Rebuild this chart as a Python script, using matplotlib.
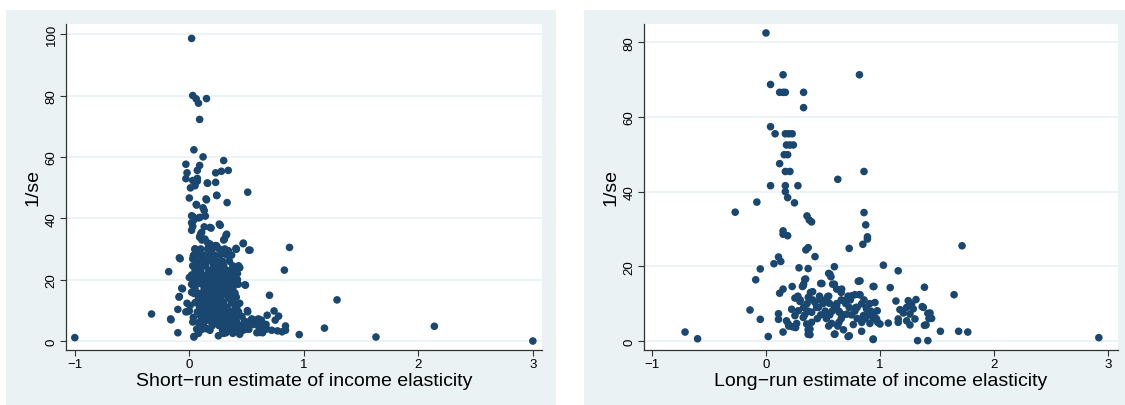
import numpy as np
import matplotlib
matplotlib.use("Agg")
import matplotlib.pyplot as plt
from matplotlib.patches import Rectangle

plt.rcParams['font.family'] = ['Liberation Sans', 'DejaVu Sans']

navy = '#1a476f'
panel_bg = '#eaf2f3'

# ---- short-run panel: scattered points (x = elasticity, y = 1/se)
sr_x = [-1.0, 0.02, 0.03, 0.06, 0.08, 0.15, 0.09, 0.04, 0.12, 0.30, -0.03, 0.09, 0.07, 0.28, 0.34,
        0.23, -0.02, -0.03, 0.03, 0.07, 0.07, 0.16, 0.23, 0.01, 0.51, 0.24, 0.0, 0.15, 0.06, 0.33,
        0.12, 0.13, 0.03, 0.14, 0.08, 0.02, 0.03, 0.13, 0.19, 0.27, 0.02, 0.10, 0.32, 0.09, 0.30,
        0.11, 0.47, 0.23, 0.16, 0.875, 0.53, 0.41, 0.05, 0.34, 0.31, 0.03, -0.08, 0.83, -0.18, 0.49,
        -0.06, 0.70, -0.09, 1.29, -0.33, -0.10, -0.16, -0.10, 0.04, 0.96, 1.18, 1.63, 2.14, 3.0, 0.74,
        0.78, 0.68, 0.75, 0.84, 0.84, 0.81, 0.51, 0.44, 0.41, 0.44, 0.42, -0.02, -0.03, 0.0, 0.03,
        0.08, 0.08, 0.11, 0.15, 0.32, 0.44]
sr_y = [1.1, 98.6, 80.0, 78.9, 77.5, 79.0, 72.2, 62.3, 60.0, 58.8, 57.6, 57.2, 55.6, 55.3, 55.6,
        54.8, 54.8, 52.9, 52.3, 52.1, 53.0, 51.4, 51.7, 49.9, 48.5, 47.4, 46.6, 46.0, 44.5, 45.1,
        43.4, 42.5, 40.6, 40.7, 40.1, 38.5, 37.4, 37.2, 36.8, 37.7, 36.1, 35.0, 34.4, 33.8, 32.9,
        32.9, 31.7, 31.1, 32.0, 30.5, 29.6, 29.9, 29.8, 29.3, 28.5, 26.8, 26.8, 23.1, 22.6, 18.2,
        17.0, 14.9, 14.3, 13.4, 8.8, 10.3, 6.9, 2.7, 1.3, 2.1, 4.2, 1.3, 4.8, 0.0, 9.8,
        8.1, 8.4, 6.8, 4.9, 3.5, 3.0, 9.5, 12.3, 14.3, 23.9, 22.0, 12.3, 9.5, 9.8, 6.2,
        6.0, 2.5, 3.8, 4.0, 2.7, 2.2]

# tail of the short-run cloud, right of 0.4
sr_tail_x = [0.53, 0.58, 0.63, 0.56, 0.61, 0.66, 0.72, 0.77, 0.52, 0.59, 0.64, 0.50, 0.67, 0.62,
             0.472, 0.408, 0.52, 0.341, 0.437, 0.486, 0.507, 0.545, 0.603, 0.574, 0.632, 0.617,
             0.676, 0.501, 0.443, 0.399, 0.428, 0.37, 0.414, 0.385, 0.341, 0.399, 0.355, 0.428,
             0.37, 0.399]
sr_tail_y = [6.5, 6.8, 6.8, 5.4, 4.3, 3.8, 3.5, 3.3, 3.8, 2.7, 2.7, 5.4, 5.4, 5.4,
             31.9, 30.0, 29.6, 29.4, 23.9, 18.3, 9.9, 7.2, 7.2, 5.6, 5.0, 2.8,
             3.9, 3.9, 5.0, 6.1, 8.2, 9.3, 10.9, 12.6, 14.2, 15.6, 17.4, 18.5,
             20.7, 22.4]

# left edge and upper part of the short-run cloud
sr_edge_x = [-0.163, -0.087, -0.066, 0.0, 0.02, 0.006, -0.014, 0.035, 0.041, 0.064, 0.108, 0.137,
             0.093, 0.152, 0.181, 0.035, 0.064, 0.05, 0.195, 0.239, 0.224, 0.312, 0.254, 0.326,
             0.282, 0.157, 0.05, 0.239, 0.146, 0.064, 0.02, 0.035, 0.093, 0.262, 0.181, 0.108,
             0.093, 0.137, 0.326, 0.306, 0.239, 0.181, 0.408, 0.05, 0.035, -0.087]
sr_edge_y = [7.2, 14.5, 17.2, 20.7, 15.9, 11.5, 9.6, 7.7, 1.5, 3.9, 7.7, 4.4,
             10.4, 11.5, 14.8, 18.0, 22.4, 24.5, 18.0, 9.3, 6.1, 2.8, 1.7, 21.8,
             14.8, 51.5, 50.6, 47.5, 46.3, 44.3, 40.8, 39.2, 40.3, 38.1, 37.0, 35.4,
             34.2, 33.2, 34.8, 33.2, 31.0, 31.6, 30.2, 30.0, 27.8, 27.1]

# dense core of the short-run cloud, row by row
sr_core_y = [30, 28, 26, 24.5, 23, 21.5, 20, 18.5, 17, 15.5, 14, 12.5, 11, 9.5, 8, 6.5, 5, 3.5, 2.5]
sr_core_x = [
    [0.05, 0.10, 0.16, 0.20, 0.26, 0.31],
    [0.04, 0.09, 0.13, 0.18, 0.22, 0.27, 0.33, 0.37],
    [0.06, 0.11, 0.15, 0.19, 0.24, 0.29, 0.35],
    [0.03, 0.08, 0.14, 0.21, 0.25, 0.30, 0.38, 0.43],
    [0.05, 0.10, 0.17, 0.22, 0.27, 0.33, 0.36, 0.40],
    [0.02, 0.07, 0.12, 0.16, 0.20, 0.24, 0.29, 0.34, 0.39],
    [0.04, 0.09, 0.14, 0.18, 0.23, 0.27, 0.32, 0.37, 0.42],
    [0.02, 0.06, 0.11, 0.16, 0.21, 0.26, 0.30, 0.35, 0.40],
    [0.05, 0.13, 0.19, 0.23, 0.28, 0.33, 0.38],
    [0.04, 0.09, 0.15, 0.20, 0.25, 0.31, 0.36],
    [0.08, 0.12, 0.18, 0.22, 0.27, 0.34, 0.39],
    [0.05, 0.10, 0.16, 0.21, 0.26, 0.30, 0.37],
    [0.09, 0.14, 0.19, 0.24, 0.29, 0.33, 0.40],
    [0.07, 0.12, 0.17, 0.22, 0.27, 0.31, 0.36, 0.43],
    [0.10, 0.15, 0.21, 0.25, 0.30, 0.35, 0.39, 0.46],
    [0.13, 0.18, 0.27, 0.32, 0.37, 0.41, 0.48],
    [0.12, 0.20, 0.26, 0.30, 0.34, 0.39, 0.45],
    [0.09, 0.18, 0.29, 0.36, 0.42, 0.47],
    [0.30, 0.38],
]

# ---- long-run panel
lr_x = [-0.0, 0.15, 0.82, 0.04, 0.12, 0.15, 0.17, 0.33, 0.33, 0.04, 0.08, 0.17, 0.20, 0.23, 0.18,
        0.21, 0.24, 0.16, 0.19, 0.12, 0.17, 0.21, 0.86, 0.63, 0.04, 0.17, 0.28, 0.17, 0.19, 0.25,
        -0.08, -0.27, 0.86, 0.36, 0.38, 0.40, 0.875, 0.15, 0.15, 0.19, 0.89, 0.89, 0.85, 1.72, 0.73,
        0.37, 0.35, 0.43, 0.11, 0.13, 0.07, -0.05, 0.29, 0.37, 0.60, 1.03, 1.16, 0.55, 0.57, -0.09,
        0.81, 0.34, 0.33, 0.32, 0.48, 0.60, 0.94, 1.09, 1.39, 0.23, 0.15, 0.12, 0.39, 0.62, 0.66,
        1.65, 0.78, 0.82, 1.14, -0.14, -0.05, -0.71, -0.60, 0.02, 0.15, 0.37, 0.60, 0.72, 0.94, 1.33,
        1.42, 1.53, 1.69, 1.77, 2.92, 1.39, 1.43, 1.42, 1.37, 0.11, 0.11, 0.18, 0.20, 0.26]
lr_y = [82.5, 71.3, 71.3, 68.7, 66.6, 66.6, 66.6, 66.6, 62.5, 57.4, 55.5, 55.5, 55.5, 55.5, 52.5,
        52.5, 52.5, 49.9, 49.9, 47.5, 45.4, 45.4, 45.4, 43.3, 41.6, 41.6, 41.6, 40.0, 38.4, 37.0,
        37.2, 34.5, 34.4, 33.5, 32.4, 31.9, 31.1, 29.5, 28.6, 28.2, 27.9, 27.3, 25.9, 25.5, 24.8,
        25.0, 24.4, 22.6, 22.5, 21.3, 20.7, 19.3, 19.6, 19.4, 19.9, 20.3, 18.8, 18.1, 17.2, 16.4,
        16.0, 16.5, 15.2, 14.6, 15.4, 15.2, 14.6, 14.3, 14.4, 14.6, 13.9, 12.8, 13.0, 13.9, 13.0,
        12.4, 12.4, 12.4, 10.7, 8.3, 5.8, 2.4, 0.6, 1.2, 2.4, 1.8, 1.8, 1.2, 0.4, 0.1,
        0.1, 2.6, 2.6, 2.4, 0.9, 4.2, 6.0, 7.4, 9.2, 7.3, 5.8, 5.4, 4.0, 3.6]

# cluster around 1.0-1.45
lr_right_x = [1.248, 1.277, 1.316, 1.234, 1.175, 1.205, 1.292, 1.38, 1.263, 1.307, 1.439, 1.453,
              1.404, 1.263, 1.234, 1.16, 1.16, 1.073, 1.0, 0.97, 0.93, 0.956]
lr_right_y = [10.8, 9.9, 11.1, 9.0, 8.4, 7.5, 8.6, 9.0, 7.2, 5.9, 7.5, 6.05,
              4.3, 4.3, 5.4, 5.9, 5.0, 4.8, 4.55, 5.9, 7.2, 10.3]

# main low cluster 0.2-1.0
lr_core_x = [0.196, 0.234, 0.269, 0.254, 0.225, 0.254, 0.298, 0.327, 0.348, 0.371, 0.284, 0.327,
             0.357, 0.386, 0.386, 0.401, 0.409, 0.43, 0.444, 0.474, 0.491, 0.518, 0.541, 0.556,
             0.561, 0.585, 0.576, 0.605, 0.62, 0.643, 0.664, 0.678, 0.708, 0.731, 0.752, 0.766,
             0.789, 0.825, 0.825, 0.839, 0.854, 0.883, 0.912, 0.941, 0.947, 0.956, 0.976,
             0.28, 0.47, 0.55, 0.72, 0.30, 0.41, 0.52, 0.66, 0.74, 0.86, 0.36, 0.50, 0.62, 0.70,
             0.84, 0.91, 0.33, 0.46, 0.60, 0.73, 0.80, 0.88, 0.37, 0.52, 0.58, 0.64, 0.78, 0.92,
             0.34, 0.48, 0.56, 0.68, 0.75, 0.90, 0.45, 0.53, 0.66, 0.80, 0.87, 0.94, 0.40, 0.64,
             0.84, 0.98, 0.55, 0.63, 0.37, 0.68]
lr_core_y = [4.55, 3.8, 4.7, 6.8, 8.5, 11.5, 10.6, 14.8, 16.6, 11.7, 8.1, 6.3,
             4.55, 3.2, 1.7, 7.7, 13.2, 10.3, 9.0, 11.2, 15.4, 7.2, 11.9, 10.1,
             17.9, 15.2, 4.7, 1.87, 9.5, 7.7, 13.9, 10.8, 7.2, 1.4, 12.1, 4.4,
             9.0, 16.1, 12.4, 2.6, 6.8, 8.5, 4.7, 0.53, 14.6, 6.3, 8.1,
             12.0, 12.0, 12.0, 12.0, 11.0, 11.0, 11.0, 11.0, 11.0, 11.0, 10.0, 10.0, 10.0, 10.0,
             10.0, 10.0, 9.0, 9.0, 9.0, 9.0, 9.0, 9.0, 8.0, 8.0, 8.0, 8.0, 8.0, 8.0,
             7.0, 7.0, 7.0, 7.0, 7.0, 7.0, 6.0, 6.0, 6.0, 6.0, 6.0, 6.0, 5.0, 5.0,
             5.0, 5.0, 4.0, 4.0, 3.0, 3.0]

sr_all_x = sr_x + sr_tail_x + sr_edge_x + [v for row in sr_core_x for v in row]
sr_all_y = sr_y + sr_tail_y + sr_edge_y + [y for y, row in zip(sr_core_y, sr_core_x) for _ in row]
lr_all_x = lr_x + lr_right_x + lr_core_x
lr_all_y = lr_y + lr_right_y + lr_core_y

W, H = 1125, 406
fig = plt.figure(figsize=(W / 100, H / 100), dpi=100, facecolor='white')

# grey-blue panel backgrounds (pixel boxes: left, top, right, bottom)
for x0, y0, x1, y1 in [(6, 11, 556, 406), (584, 11, 1125, 406)]:
    fig.patches.append(Rectangle((x0 / W, 1 - y1 / H), (x1 - x0) / W, (y1 - y0) / H,
                                 transform=fig.transFigure, facecolor=panel_bg,
                                 edgecolor='none', zorder=0))


def px_axes(x0, y0, x1, y1):
    return fig.add_axes([x0 / W, 1 - y1 / H, (x1 - x0) / W, (y1 - y0) / H])


panels = [
    (px_axes(66, 25, 542, 351), sr_all_x, sr_all_y, (-1.077, 3.08), (-2.93, 103.3),
     [0, 20, 40, 60, 80, 100], 'Short\u2212run estimate of income elasticity'),
    (px_axes(644, 25, 1118, 351), lr_all_x, lr_all_y, (-1.07, 3.088), (-2.41, 84.9),
     [0, 20, 40, 60, 80], 'Long\u2212run estimate of income elasticity'),
]

for ax, xs, ys, xl, yl, yticks, xlabel in panels:
    ax.set_facecolor('white')
    ax.set_zorder(2)
    for t in yticks:
        ax.axhline(t, color=panel_bg, lw=1.2, zorder=1)
    ax.scatter(xs, ys, s=30, color=navy, edgecolors='none', zorder=3)
    ax.set_xlim(*xl)
    ax.set_ylim(*yl)
    ax.set_xticks([-1, 0, 1, 2, 3])
    ax.set_yticks(yticks)
    for side in ['top', 'right']:
        ax.spines[side].set_visible(False)
    for side in ['left', 'bottom']:
        ax.spines[side].set_color('#333333')
        ax.spines[side].set_linewidth(0.9)
    ax.tick_params(direction='out', length=4, width=0.8, color='#333333',
                   labelsize=9.5, pad=2)
    for lab in ax.get_yticklabels():
        lab.set_rotation(90)
        lab.set_va('center')
    ax.set_xlabel(xlabel, fontsize=14, labelpad=1)
    ax.set_ylabel('1/se', fontsize=14, labelpad=3)

fig.savefig('out.png', dpi=100, facecolor='white')
